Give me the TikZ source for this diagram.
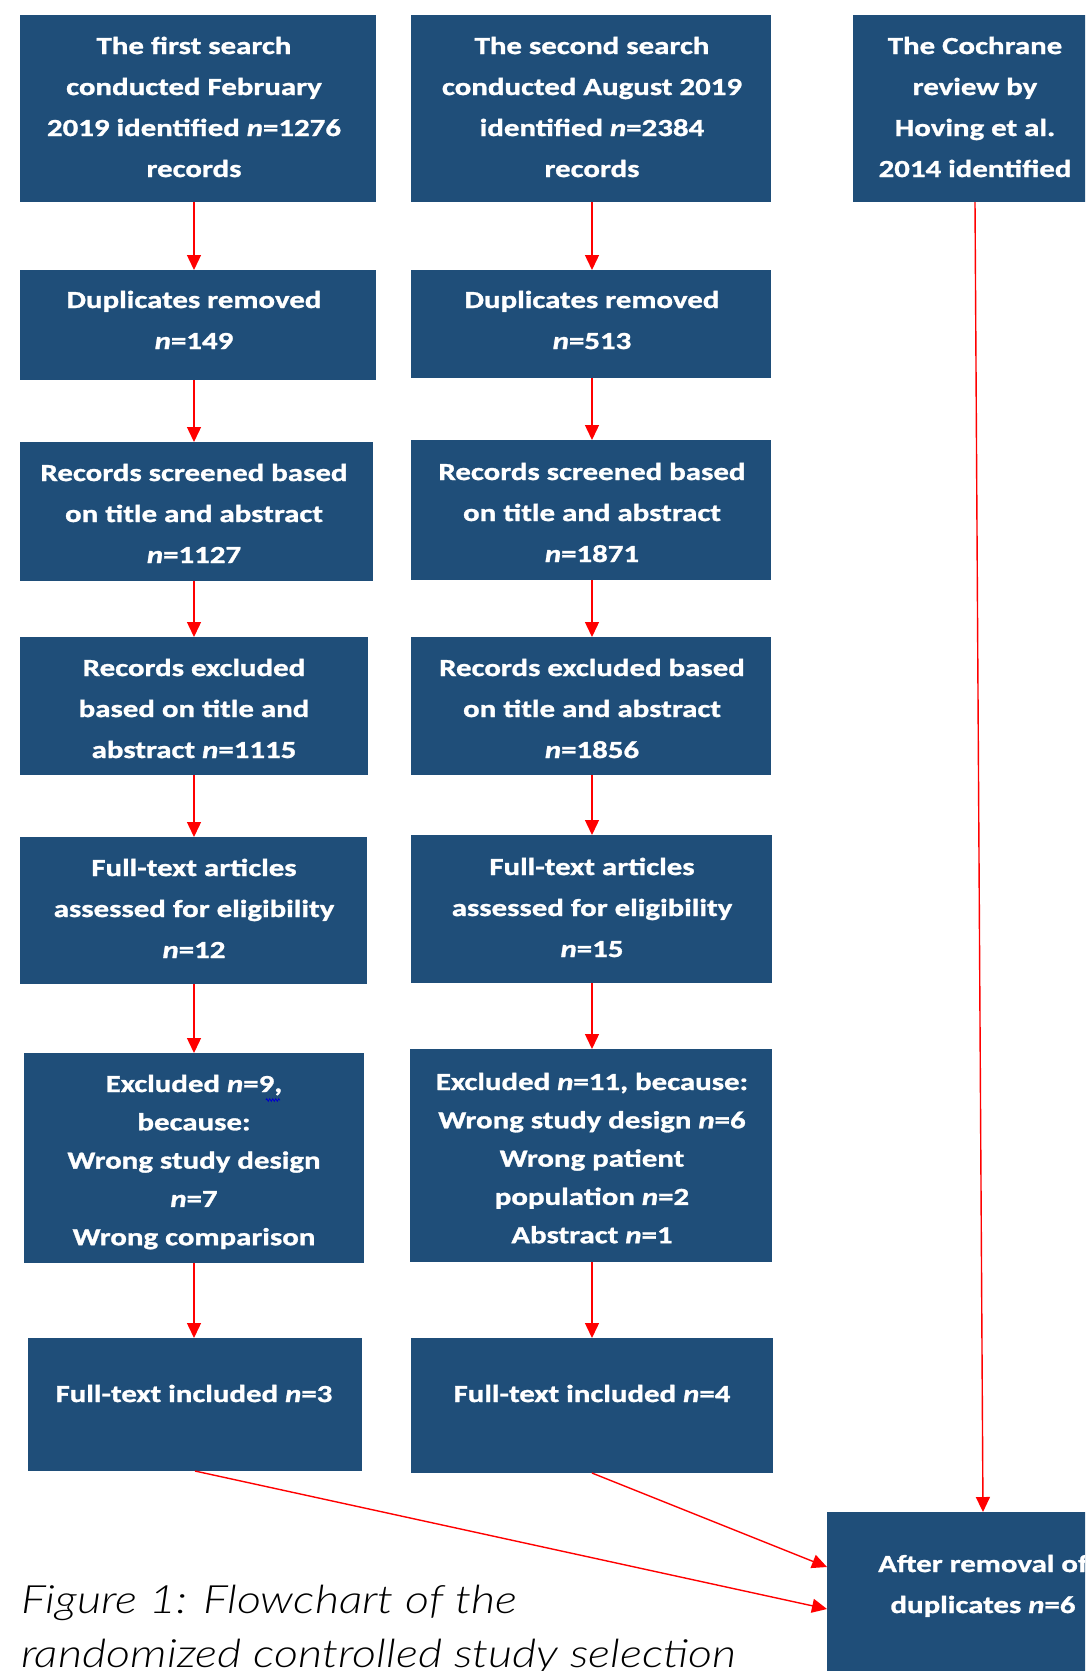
\documentclass[tikz,border=0pt]{standalone}
\usepackage{fontspec}
\usetikzlibrary{arrows.meta,decorations.pathmorphing}
\newfontfamily\boxfont{Carlito}[FakeStretch=1.26,FakeBold=1.2]
\newfontfamily\capfont{Lato}[UprightFont=* Light, ItalicFont=* Light Italic, FakeStretch=1.2]
\definecolor{boxblue}{RGB}{31,78,121}
\newcommand\bxf{\boxfont\bfseries\fontsize{24.5}{41}\selectfont}
\newcommand\bxtight{\fontsize{24.5}{38.3}\selectfont}
\newcommand\nn{\textit{n}}
\begin{document}
\begin{tikzpicture}[x=1pt,y=-1pt,
  box/.style={fill=boxblue,draw=none,inner sep=0pt,anchor=north west,outer sep=0pt},
  lbl/.style={text=white,inner sep=0pt,anchor=base,font=\bxf},
  arr/.style={draw=red,line width=1.4pt,-{Triangle[length=15pt,width=14pt]}}]
\useasboundingbox (0,0) rectangle (1085,1671);
\clip (0,0) rectangle (1085,1671);
\fill[white] (0,0) rectangle (1085,1671);
% boxes
\node[box,minimum width=356pt,minimum height=187pt] (b11) at (20,15) {};
\node[box,minimum width=360pt,minimum height=187pt] (b21) at (411,15) {};
\node[box,minimum width=244pt,minimum height=187pt] (b31) at (853,15) {};
\node[box,minimum width=356pt,minimum height=110pt] (b12) at (20,270) {};
\node[box,minimum width=360pt,minimum height=108pt] (b22) at (411,270) {};
\node[box,minimum width=353pt,minimum height=139pt] (b13) at (20,442) {};
\node[box,minimum width=360pt,minimum height=140pt] (b23) at (411,440) {};
\node[box,minimum width=348pt,minimum height=138pt] (b14) at (20,637) {};
\node[box,minimum width=360pt,minimum height=138pt] (b24) at (411,637) {};
\node[box,minimum width=347pt,minimum height=147pt] (b15) at (20,837) {};
\node[box,minimum width=361pt,minimum height=148pt] (b25) at (411,835) {};
\node[box,minimum width=340pt,minimum height=210pt] (b16) at (24,1053) {};
\node[box,minimum width=362pt,minimum height=213pt] (b26) at (410,1049) {};
\node[box,minimum width=334pt,minimum height=133pt] (b17) at (28,1338) {};
\node[box,minimum width=362pt,minimum height=135pt] (b27) at (411,1338) {};
\node[box,minimum width=312pt,minimum height=200pt] (fin) at (827,1512) {};
% labels
\node[lbl] (t11) at (194,54) {\parbox[t]{350pt}{\centering The first search\\conducted February\\2019 identified \nn=1276\\records}};
\node[lbl] (t21) at (592,54) {\parbox[t]{350pt}{\centering The second search\\conducted August 2019\\identified \nn=2384\\records}};
\node[lbl] (t31) at (975,54) {\parbox[t]{240pt}{\centering The Cochrane\\review by\\Hoving et al.\\2014 identified}};
\node[lbl] (t12) at (194,308) {\parbox[t]{350pt}{\centering Duplicates removed\\\nn=149}};
\node[lbl] (t22) at (592,308) {\parbox[t]{350pt}{\centering Duplicates removed\\\nn=513}};
\node[lbl] (t13) at (194,481) {\parbox[t]{350pt}{\centering Records screened based\\on title and abstract\\\nn=1127}};
\node[lbl] (t23) at (592,480) {\parbox[t]{350pt}{\centering Records screened based\\on title and abstract\\\nn=1871}};
\node[lbl] (t14) at (194,676) {\parbox[t]{350pt}{\centering Records excluded\\based on title and\\abstract \nn=1115}};
\node[lbl] (t24) at (592,676) {\parbox[t]{350pt}{\centering Records excluded based\\on title and abstract\\\nn=1856}};
\node[lbl] (t15) at (194,876) {\parbox[t]{350pt}{\centering Full-text articles\\assessed for eligibility\\\nn=12}};
\node[lbl] (t25) at (592,875) {\parbox[t]{350pt}{\centering Full-text articles\\assessed for eligibility\\\nn=15}};
\node[lbl] (t16) at (194,1092) {\parbox[t]{340pt}{\bxtight\centering Excluded \nn=9,\\because:\\Wrong study design\\\nn=7\\Wrong comparison}};
\node[lbl] (t26) at (592,1090) {\parbox[t]{360pt}{\bxtight\centering Excluded \nn=11, because:\\Wrong study design \nn=6\\Wrong patient\\population \nn=2\\Abstract \nn=1}};
\node[lbl] (t17) at (194,1402) {Full-text included \nn=3};
\node[lbl] (t27) at (592,1402) {Full-text included \nn=4};
\node[lbl] (tf) at (983,1572) {\parbox[t]{300pt}{\centering After removal of\\duplicates \nn=6}};
% spell-check squiggle
\coordinate (sq1) at (266,1100);
\coordinate (sq2) at (280,1100);
\draw[blue!80!black,line width=0.8pt,decorate,decoration={zigzag,amplitude=1.3pt,segment length=3pt}] (sq1) -- (sq2);
% arrows
\draw[arr] (t11 |- b11.south) -- (t11 |- b12.north);
\draw[arr] (t11 |- b12.south) -- (t11 |- b13.north);
\draw[arr] (t11 |- b13.south) -- (t11 |- b14.north);
\draw[arr] (t11 |- b14.south) -- (t11 |- b15.north);
\draw[arr] (t11 |- b15.south) -- (t11 |- b16.north);
\draw[arr] (t11 |- b16.south) -- (t11 |- b17.north);
\draw[arr] (t21 |- b21.south) -- (t21 |- b22.north);
\draw[arr] (t21 |- b22.south) -- (t21 |- b23.north);
\draw[arr] (t21 |- b23.south) -- (t21 |- b24.north);
\draw[arr] (t21 |- b24.south) -- (t21 |- b25.north);
\draw[arr] (t21 |- b25.south) -- (t21 |- b26.north);
\draw[arr] (t21 |- b26.south) -- (t21 |- b27.north);
\draw[arr] (b31.south) -- (fin.north);
\draw[arr] (b17.south) -- ([yshift=-97pt]fin.north west);
\draw[arr] (b27.south) -- ([yshift=-55pt]fin.north west);
% caption
\node[inner sep=0pt,anchor=base west,font=\capfont\itshape\fontsize{39}{54}\selectfont] (cap) at (21,1613) {\parbox[t]{900pt}{\raggedright Figure 1: Flowchart of the\\randomized controlled study selection}};
\end{tikzpicture}
\end{document}
